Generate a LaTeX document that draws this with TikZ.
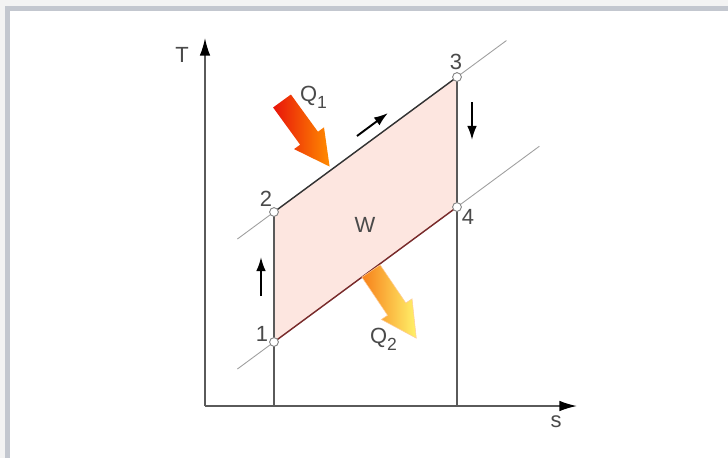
\documentclass[tikz,border=0pt]{standalone}
\usepackage{fontspec}
\setmainfont{Liberation Sans}
\usepackage{xcolor}
\usetikzlibrary{arrows.meta, calc, positioning}

\definecolor{pageGray}{HTML}{F3F3F3}
\definecolor{frameGray}{HTML}{C3C7CF}
\definecolor{cycleFill}{HTML}{FDE6E0}
\definecolor{labelGray}{HTML}{4A4A4A}
\definecolor{axisGray}{HTML}{5A5A5A}
\definecolor{coldEdge}{HTML}{7A2A2A}
\definecolor{qOneStart}{HTML}{E8140A}
\definecolor{qOneEnd}{HTML}{FF8C00}
\definecolor{qTwoStart}{HTML}{F7801A}
\definecolor{qTwoEnd}{HTML}{FFF26A}

\begin{document}
\begin{tikzpicture}[x=0.02cm, y=-0.02cm,
    font=\fontsize{12.5}{14}\selectfont,
    lbl/.style={text=labelGray, inner sep=1pt},
    pt/.style={circle, draw=gray, fill=white, inner sep=0pt, minimum size=5pt, line width=0.5pt},
    axis/.style={axisGray, line width=0.9pt, -{Latex[length=10pt, width=6pt, black]}},
    isobar/.style={gray!75, line width=0.5pt},
    isentrope/.style={axisGray, line width=0.8pt},
    flow/.style={black, line width=1.1pt, -{Latex[length=8pt, width=5.5pt]}}]
    % 1. Khung nền
    \useasboundingbox (0,0) rectangle (728,458);
    \fill[pageGray] (0,0) rectangle (728,458);
    \fill[frameGray] (5,6) rectangle (728,458);
    \fill[white] (10,11) rectangle (728,458);

    % 2. Các điểm của chu trình
    \coordinate (O) at (205,406);
    \coordinate (c1) at (274,342);
    \coordinate (c2) at (274,212);
    \coordinate (c3) at (457,77);
    \coordinate (c4) at (457,207);

    % 3. Miền công W
    \fill[cycleFill] (c1) -- (c2) -- (c3) -- (c4) -- cycle;

    % 4. Đường đẳng áp
    \draw[isobar] ($(c2)!-0.2!(c3)$) -- ($(c2)!1.27!(c3)$);
    \draw[isobar] ($(c1)!-0.2!(c4)$) -- ($(c1)!1.45!(c4)$);

    % 5. Đường đẳng entropy và các cạnh
    \draw[isentrope] (c1 |- O) -- (c2);
    \draw[isentrope] (c4 |- O) -- (c3);
    \draw[black!80, line width=0.8pt] (c2) -- (c3);
    \draw[coldEdge, line width=0.8pt] (c1) -- (c4);

    % 6. Hệ trục T, s
    \draw[axis] (O) -- (205,38);
    \draw[axis] (O) -- (577,406);
    \node[lbl] (Tlbl) at (182,55) {T};
    \node[lbl] (slbl) at (556,422) {s};

    % 7. Nút điểm và nhãn
    \node[pt] (p1) at (c1) {};
    \node[pt] (p2) at (c2) {};
    \node[pt] (p3) at (c3) {};
    \node[pt] (p4) at (c4) {};
    \node[lbl] (l1) at ($(c1)+(-12,-8)$) {1};
    \node[lbl] (l2) at ($(c2)+(-8,-13)$) {2};
    \node[lbl] (l3) at ($(c3)+(-1,-15)$) {3};
    \node[lbl] (l4) at ($(c4)+(11,10)$) {4};
    \node[lbl] (W) at (365,225) {W};

    % 8. Mũi tên chiều chu trình
    \draw[flow] (357,136) -- (388,113);
    \draw[flow] (472,102) -- (472,140);
    \draw[flow] (261,296) -- (261,257);

    % 9. Nhiệt lượng Q1, Q2
    \begin{scope}[shift={(282,101)}, rotate=-54]
        \shade[left color=qOneStart, right color=qOneEnd]
            (0,-11) -- (46,-11) -- (46,-18.5) -- (81,0) -- (46,18.5) -- (46,11) -- (0,11) -- cycle;
    \end{scope}
    \begin{scope}[shift={(371,271)}, rotate=-56]
        \shade[left color=qTwoStart, right color=qTwoEnd, draw=orange!40, line width=0.3pt]
            (0,-11) -- (46,-11) -- (46,-18.5) -- (81,0) -- (46,18.5) -- (46,11) -- (0,11) -- cycle;
    \end{scope}
    \node[lbl, anchor=west] (Q1) at (298,97) {Q\raisebox{-4pt}{\fontsize{10}{12}\selectfont 1}};
    \node[lbl, anchor=west] (Q2) at (368,339) {Q\raisebox{-4pt}{\fontsize{10}{12}\selectfont 2}};
\end{tikzpicture}
\end{document}
